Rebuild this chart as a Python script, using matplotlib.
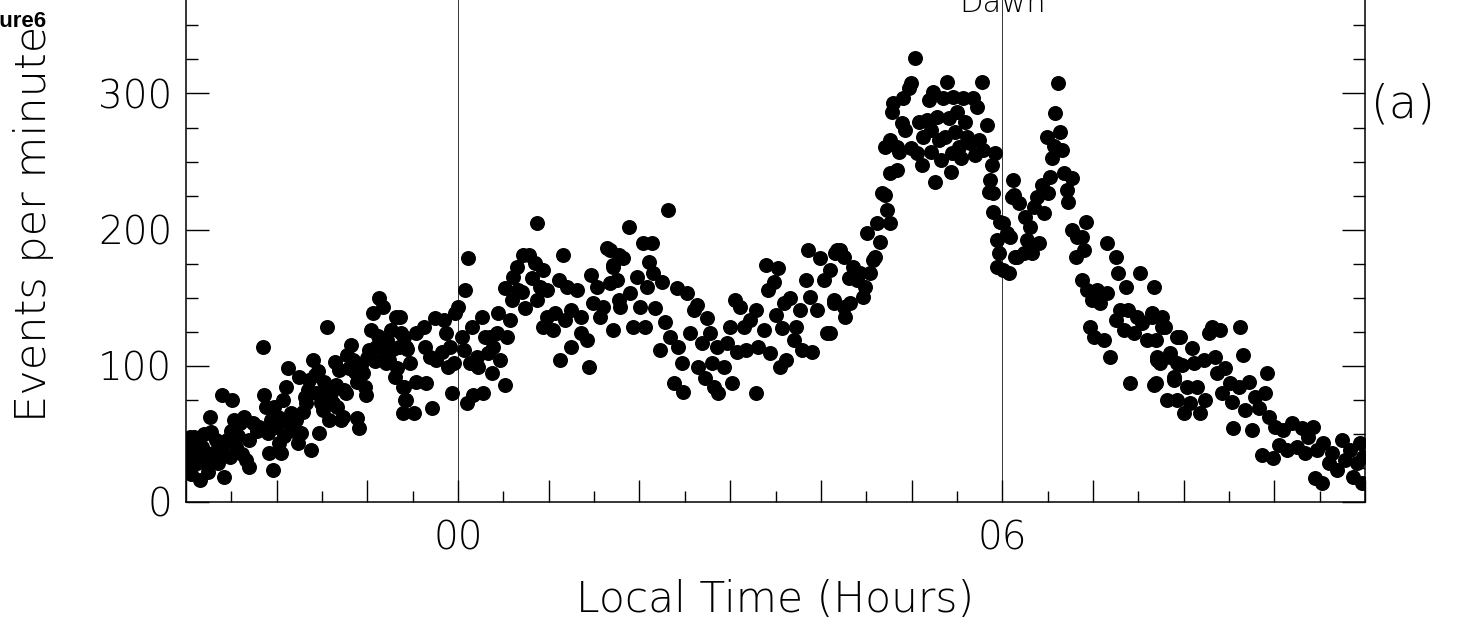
import numpy as np
import matplotlib
matplotlib.use("Agg")
import matplotlib.pyplot as plt
from matplotlib.ticker import FixedLocator, MultipleLocator, FixedFormatter

# ---------------- data (local time in hours, events per minute) ----------------
evening_hours = [-3.00, -2.96, -2.96, -2.95, -2.94, -2.93, -2.91, -2.89, -2.88, -2.85,
                 -2.82, -2.80, -2.78, -2.76, -2.74, -2.72, -2.70, -2.67, -2.65, -2.63,
                 -2.60, -2.60, -2.58, -2.55, -2.52, -2.50, -2.49, -2.47, -2.45, -2.43,
                 -2.41, -2.38, -2.36, -2.34, -2.30, -2.30, -2.26, -2.22, -2.19, -2.15,
                 -2.14, -2.12, -2.10, -2.08, -2.06, -2.04, -2.03, -2.01, -1.99, -1.97,
                 -1.95, -1.93, -1.92, -1.90, -1.88, -1.86, -1.84, -1.81, -1.79, -1.77,
                 -1.75, -1.73, -1.71, -1.69, -1.68, -1.66, -1.64, -1.62, -1.60, -1.58,
                 -1.57, -1.55, -1.53, -1.51, -1.49, -1.48, -1.46, -1.44, -1.42, -1.40,
                 -1.38, -1.36, -1.35, -1.33, -1.31, -1.29, -1.27, -1.26, -1.24, -1.22,
                 -1.20, -1.18, -1.16, -1.14, -1.12, -1.11, -1.09, -1.07, -1.05, -1.03,
                 -1.01, -1.00, -0.98, -0.96, -0.94, -0.92, -0.90, -0.88, -0.87, -0.85,
                 -0.83, -0.81, -0.79, -0.78, -0.76, -0.74, -0.72, -0.70, -0.68, -0.67,
                 -0.65, -0.64, -0.63, -0.61, -0.61, -0.60, -0.60, -0.59, -0.57, -0.57,
                 -0.56, -0.53, -0.49, -0.46, -0.46, -0.38, -0.36, -0.35, -0.31, -0.29,
                 -0.25, -0.24, -0.18, -0.16, -0.13, -0.11, -0.09, -0.07, -0.05, -0.03]
evening_events = [25.6, 47.7, 35.4, 20.0, 42.8, 29.3, 47.7, 37.9, 28.0, 15.8,
                  40.3, 50.0, 30.5, 22.0, 62.4, 51.4, 36.0, 45.3, 28.0, 35.4,
                  40.3, 78.3, 18.3, 45.0, 33.0, 52.0, 74.7, 60.0, 40.3, 48.0,
                  57.5, 35.0, 62.4, 30.5, 25.6, 45.0, 57.5, 52.0, 55.1, 113.9,
                  78.3, 69.8, 50.2, 35.4, 60.0, 23.2, 69.8, 55.1, 62.0, 42.8,
                  35.4, 74.7, 48.0, 84.5, 98.0, 57.5, 65.0, 52.0, 60.0, 42.8,
                  91.8, 50.2, 66.0, 77.1, 72.2, 82.0, 89.4, 37.9, 104.1, 93.1,
                  79.6, 96.0, 50.2, 72.2, 67.3, 88.0, 82.0, 128.6, 60.0, 80.0,
                  72.2, 102.9, 86.0, 69.8, 96.7, 60.0, 62.4, 82.0, 79.6, 108.0,
                  98.0, 115.1, 104.1, 95.0, 88.0, 61.2, 53.8, 100.4, 94.3, 84.5,
                  78.3, 105.3, 111.4, 126.1, 138.4, 103.0, 113.9, 122.0, 149.4, 118.0,
                  143.3, 110.0, 101.6, 118.8, 104.1, 126.1, 112.0, 91.8, 135.9, 98.0,
                  113.9, 135.9, 123.7, 84.5, 64.9, 121.2, 84.4, 74.7, 113.9, 74.6,
                  112.0, 101.6, 64.8, 88.1, 123.7, 128.6, 113.9, 86.9, 106.5, 68.5,
                  134.7, 104.1, 110.2, 133.5, 123.7, 99.2, 113.9, 79.5, 101.6, 138.4]

morning_hours = [0.00, 0.04, 0.06, 0.08, 0.10, 0.11, 0.13, 0.15, 0.17, 0.21,
                 0.22, 0.26, 0.28, 0.30, 0.33, 0.35, 0.37, 0.39, 0.43, 0.44,
                 0.46, 0.52, 0.52, 0.54, 0.57, 0.59, 0.61, 0.65, 0.66, 0.70,
                 0.72, 0.74, 0.78, 0.81, 0.85, 0.87, 0.87, 0.90, 0.94, 0.94,
                 0.98, 0.98, 1.05, 1.07, 1.11, 1.12, 1.16, 1.18, 1.20, 1.24,
                 1.25, 1.31, 1.35, 1.36, 1.42, 1.44, 1.47, 1.49, 1.53, 1.57,
                 1.60, 1.64, 1.68, 1.68, 1.71, 1.71, 1.71, 1.75, 1.77, 1.77,
                 1.79, 1.82, 1.88, 1.90, 1.93, 1.97, 2.01, 2.04, 2.06, 2.08,
                 2.10, 2.14, 2.15, 2.17, 2.23, 2.25, 2.28, 2.32, 2.34, 2.38,
                 2.41, 2.43, 2.47, 2.48, 2.52, 2.56, 2.60, 2.63, 2.65, 2.69,
                 2.72, 2.74, 2.78, 2.80, 2.82, 2.85, 2.87, 2.93, 2.96, 3.00,
                 3.02, 3.05, 3.07, 3.11, 3.15, 3.18, 3.22, 3.28, 3.29, 3.31,
                 3.37, 3.40, 3.42, 3.44, 3.48, 3.50, 3.53, 3.55, 3.57, 3.59,
                 3.62, 3.66, 3.70, 3.73, 3.77, 3.79, 3.84, 3.86, 3.88, 3.90,
                 3.96, 3.99, 4.03, 4.07, 4.10, 4.10, 4.14, 4.14, 4.16, 4.18]
morning_events = [143.3, 121.2, 111.4, 155.5, 72.2, 178.8, 101.6, 128.6, 78.3, 106.5,
                  99.2, 135.9, 79.5, 121.2, 109.0, 121.2, 94.3, 113.9, 123.7, 138.4,
                  104.1, 85.7, 156.7, 121.2, 133.5, 148.2, 165.3, 172.7, 155.5, 154.3,
                  181.3, 142.0, 181.3, 164.1, 175.1, 204.5, 148.2, 158.0, 170.2, 128.6,
                  135.9, 155.5, 126.1, 138.4, 162.9, 104.1, 181.3, 133.5, 158.0, 140.8,
                  113.9, 155.5, 123.7, 135.9, 118.8, 99.2, 166.6, 145.7, 158.0, 135.9,
                  143.3, 186.2, 160.4, 184.9, 173.9, 126.1, 172.7, 162.9, 181.3, 148.2,
                  143.3, 178.8, 202.1, 153.1, 128.6, 165.3, 143.3, 189.8, 128.6, 158.0,
                  176.4, 189.8, 167.8, 142.0, 111.4, 161.6, 132.2, 214.3, 121.2, 86.9,
                  156.7, 113.9, 101.6, 80.8, 153.1, 123.7, 140.8, 144.5, 99.2, 116.3,
                  90.6, 134.7, 123.7, 101.6, 84.4, 113.9, 79.5, 99.2, 116.3, 128.6,
                  86.9, 148.2, 110.2, 143.3, 128.6, 111.4, 133.5, 79.5, 140.8, 113.9,
                  126.1, 173.9, 155.5, 109.0, 161.6, 137.1, 171.5, 99.2, 127.3, 145.7,
                  104.1, 149.4, 118.8, 128.6, 140.8, 111.4, 162.9, 184.9, 150.6, 110.2,
                  140.8, 178.8, 162.9, 123.7, 170.2, 123.6, 148.2, 145.7, 182.4, 184.9]

dawn_hours = [4.21, 4.25, 4.25, 4.27, 4.31, 4.32, 4.36, 4.40, 4.43, 4.47,
              4.49, 4.51, 4.54, 4.58, 4.60, 4.62, 4.65, 4.67, 4.71, 4.73,
              4.76, 4.76, 4.84, 4.71, 4.76, 4.78, 4.80, 4.84, 4.86, 4.89,
              4.91, 4.93, 4.97, 4.99, 4.99, 5.04, 5.06, 5.08, 5.11, 5.13,
              5.17, 5.19, 5.21, 5.22, 5.24, 5.26, 5.28, 5.30, 5.32, 5.35,
              5.37, 5.39, 5.41, 5.43, 5.45, 5.46, 5.48, 5.50, 5.52, 5.54,
              5.57, 5.59, 5.61, 5.65, 5.68, 5.70, 5.72, 5.74, 5.78, 5.79,
              5.83, 5.85, 5.87, 5.89, 5.90, 5.90, 5.92, 5.94, 5.94, 5.96,
              5.98]
dawn_events = [184.9, 180.0, 143.2, 135.9, 164.1, 145.7, 172.6, 162.8, 167.7, 150.6,
               157.9, 197.1, 167.7, 177.5, 180.0, 204.5, 191.0, 226.6, 225.3, 214.3,
               204.5, 241.3, 243.7, 260.9, 265.8, 286.6, 292.7, 260.9, 257.2, 278.0,
               296.4, 273.1, 303.8, 307.4, 259.6, 325.8, 256.0, 279.3, 247.4, 268.2,
               280.5, 295.2, 273.1, 257.2, 301.3, 235.1, 283.0, 265.8, 251.1, 296.4,
               268.2, 308.7, 281.7, 242.5, 256.0, 297.6, 271.9, 286.6, 260.9, 252.3,
               296.4, 279.3, 268.2, 263.3, 296.4, 254.7, 290.3, 265.8, 308.7, 258.4,
               276.8, 227.8, 236.4, 247.4, 226.6, 213.1, 256.0, 192.2, 172.6, 182.4,
               205.7]

day_hours = [6.01, 6.01, 6.05, 6.07, 6.09, 6.11, 6.12, 6.13, 6.14, 6.16,
             6.18, 6.24, 6.25, 6.27, 6.31, 6.33, 6.35, 6.38, 6.40, 6.44,
             6.46, 6.49, 6.51, 6.53, 6.55, 6.57, 6.58, 6.62, 6.64, 6.66,
             6.68, 6.71, 6.73, 6.77, 6.77, 6.81, 6.82, 6.88, 6.88, 6.90,
             6.92, 6.93, 6.97, 6.99, 7.01, 7.04, 7.08, 7.12, 7.15, 7.15,
             7.19, 7.25, 7.25, 7.28, 7.30, 7.34, 7.37, 7.39, 7.41, 7.45,
             7.49, 7.52, 7.54, 7.60, 7.65, 7.65, 7.67, 7.67, 7.69, 7.69,
             7.71, 7.71, 7.74, 7.76, 7.76, 7.78, 7.80, 7.82, 7.85, 7.85,
             7.89, 7.89, 7.93, 7.93, 7.93, 7.96, 7.98, 8.00, 8.04, 8.07,
             8.09, 8.11, 8.15, 8.18, 8.22, 8.24, 8.28, 8.31, 8.35, 8.37,
             8.40, 8.42, 8.46, 8.51, 8.53, 8.55, 8.61, 8.62, 8.66, 8.68,
             8.72, 8.75, 8.79, 8.83, 8.86, 8.90, 8.92, 8.94, 8.99, 9.01,
             9.05, 9.10, 9.14, 9.19, 9.25, 9.30, 9.34, 9.37, 9.43, 9.45,
             9.47, 9.53, 9.54, 9.60, 9.64, 9.69, 9.75, 9.78, 9.84, 9.87,
             9.91, 9.95, 9.97, 9.98]
day_events = [204.6, 170.2, 197.2, 167.7, 194.7, 224.2, 236.4, 225.3, 180.0, 180.0,
              219.3, 182.5, 209.5, 192.3, 202.1, 182.5, 216.8, 224.2, 189.8, 232.7,
              211.9, 268.3, 226.6, 238.9, 252.3, 261.1, 285.4, 307.5, 272.0, 258.5,
              241.3, 229.1, 220.5, 237.6, 199.7, 180.0, 194.7, 194.7, 162.9, 184.9,
              205.8, 155.5, 128.6, 148.2, 121.2, 155.5, 145.7, 118.8, 189.8, 153.1,
              106.5, 180.0, 133.5, 167.8, 140.8, 126.1, 158.0, 140.8, 86.9, 123.7,
              135.9, 167.8, 131.0, 118.8, 135.9, 138.3, 158.0, 85.6, 86.9, 118.7,
              106.5, 104.0, 101.6, 135.9, 128.5, 128.5, 128.6, 74.6, 109.0, 106.5,
              89.4, 91.8, 121.2, 101.6, 74.6, 121.2, 100.3, 64.8, 84.4, 72.2,
              112.6, 101.6, 84.4, 64.8, 104.0, 74.6, 123.6, 128.5, 106.5, 94.2,
              126.1, 79.5, 97.9, 86.9, 73.4, 53.8, 84.4, 128.5, 107.7, 67.3,
              88.1, 52.6, 77.1, 68.5, 34.2, 79.5, 94.2, 62.3, 31.7, 55.0,
              41.5, 52.6, 37.8, 57.5, 40.3, 53.8, 35.4, 47.6, 55.0, 17.0,
              37.8, 13.3, 42.7, 28.0, 35.4, 23.1, 45.2, 30.5, 37.8, 18.2,
              28.0, 42.7, 13.3, 32.9]

hour_ticks = [-3, -2, -1, 0, 1, 2, 3, 4, 5, 6, 7, 8, 9, 10]
hour_tick_labels = ['', '', '', '00', '', '', '', '', '', '06', '', '', '', '']
event_ticks = [0, 100, 200, 300, 400]
marker_lines = [0, 6]

# ---------------- figure ----------------
FONT = ['DejaVu Sans']
WEIGHT = 'light'
W, H = 1484, 627
fig = plt.figure(figsize=(W / 100, H / 100), dpi=100)
ax = fig.add_axes([186 / W, (H - 501.5) / H, (1365 - 186) / W, 544 / H])

hours = np.concatenate([evening_hours, morning_hours, dawn_hours, day_hours])
events = np.concatenate([evening_events, morning_events, dawn_events, day_events])

for xv in marker_lines:
    ax.axvline(xv, color='#333333', lw=0.7, zorder=1)

ax.plot(hours, events, 'o', color='black', ms=10.8, mew=0, zorder=3, clip_on=True)

ax.set_xlim(-3, 10)
ax.set_ylim(0, 400)

ax.xaxis.set_major_locator(FixedLocator(hour_ticks))
ax.xaxis.set_major_formatter(FixedFormatter(hour_tick_labels))
ax.xaxis.set_minor_locator(MultipleLocator(0.5))
ax.yaxis.set_major_locator(FixedLocator(event_ticks))
ax.yaxis.set_minor_locator(MultipleLocator(25))

ax.tick_params(axis='both', which='both', direction='in', top=True, right=True,
               width=1.0, color='black')
ax.tick_params(axis='x', which='major', length=16, pad=13)
ax.tick_params(axis='x', which='minor', length=8)
ax.tick_params(axis='y', which='major', length=16.5, pad=10)
ax.tick_params(axis='y', which='minor', length=8.5)
for lab in ax.get_xticklabels() + ax.get_yticklabels():
    lab.set_family(FONT)
    lab.set_fontweight(WEIGHT)
    lab.set_fontsize(28)
for sp in ax.spines.values():
    sp.set_linewidth(1.1)

ax.text(6, 360, 'Dawn', ha='center', va='baseline', fontsize=22,
        family=FONT, fontweight=WEIGHT)

fig.text(775.5 / W, 1 - 612 / H, 'Local Time (Hours)', ha='center', va='baseline',
         fontsize=30.5, family=FONT, fontweight=WEIGHT)
fig.text(46 / W, 1 - 224 / H, 'Events per minute', ha='center', va='baseline',
         rotation=90, rotation_mode='anchor', fontsize=31, family=FONT,
         fontweight=WEIGHT)
fig.text(1403 / W, 1 - 105 / H, '(a)', ha='center', va='center',
         fontsize=33, family=FONT, fontweight=WEIGHT)
fig.text(47 / W, 1 - 22 / H, 'Figure6', ha='right', va='center',
         fontsize=16, family=['Liberation Sans', 'DejaVu Sans'], fontweight='bold')

fig.savefig('out.png', dpi=100)
